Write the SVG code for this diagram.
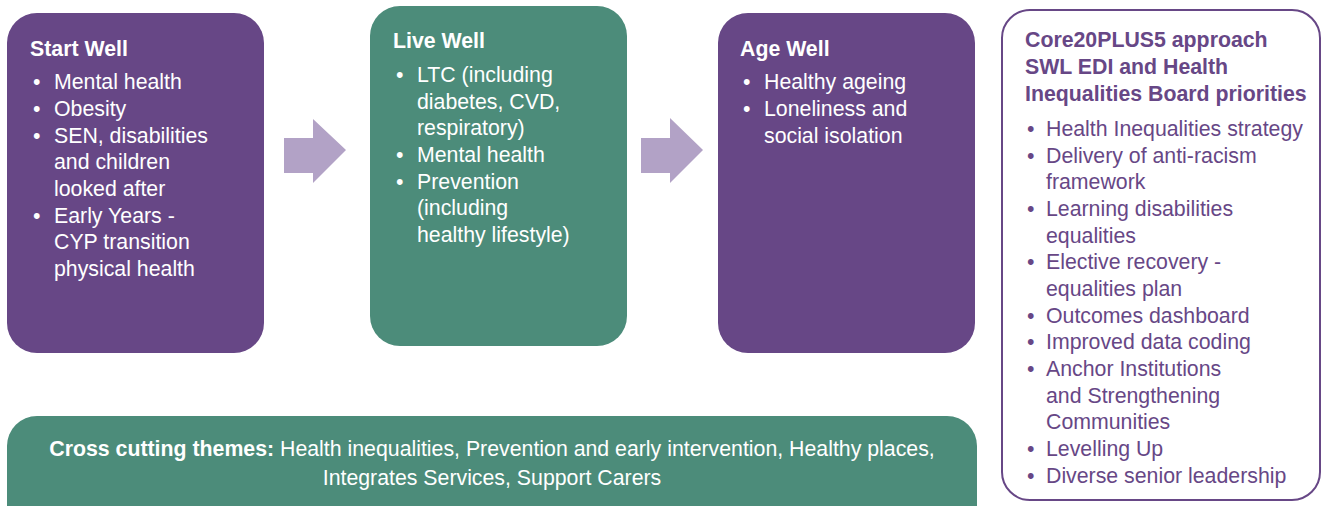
<svg xmlns="http://www.w3.org/2000/svg" width="1322" height="506" viewBox="0 0 1322 506">
<style>
.t{font-family:"Liberation Sans",Arial,sans-serif;font-size:21.3px;fill:#ffffff}
.b{font-weight:bold}
.p{fill:#674786}
.purple{fill:#674786}
.green{fill:#4c8c7a}
.arrow{fill:#b2a2c6}
</style>
<rect width="1322" height="506" fill="#ffffff"/>
<g id="start-well">
<rect class="purple" x="7" y="13" width="257" height="340" rx="30"/>
<text class="t b" x="30" y="56">Start Well</text>
<text class="t" x="33" y="89">•</text><text class="t" x="54" y="89">Mental health</text>
<text class="t" x="33" y="116">•</text><text class="t" x="54" y="116">Obesity</text>
<text class="t" x="33" y="143">•</text><text class="t" x="54" y="143">SEN, disabilities</text>
<text class="t" x="54" y="169">and children</text>
<text class="t" x="54" y="196">looked after</text>
<text class="t" x="33" y="223">•</text><text class="t" x="54" y="223">Early Years -</text>
<text class="t" x="54" y="249">CYP transition</text>
<text class="t" x="54" y="276">physical health</text>
</g>
<g id="live-well">
<rect class="green" x="370" y="6" width="257" height="340" rx="30"/>
<text class="t b" x="393" y="48">Live Well</text>
<text class="t" x="396" y="82">•</text><text class="t" x="417" y="82">LTC (including</text>
<text class="t" x="417" y="109">diabetes, CVD,</text>
<text class="t" x="417" y="135">respiratory)</text>
<text class="t" x="396" y="162">•</text><text class="t" x="417" y="162">Mental health</text>
<text class="t" x="396" y="189">•</text><text class="t" x="417" y="189">Prevention</text>
<text class="t" x="417" y="215">(including</text>
<text class="t" x="417" y="242">healthy lifestyle)</text>
</g>
<g id="age-well">
<rect class="purple" x="718" y="13" width="257" height="340" rx="30"/>
<text class="t b" x="740" y="56">Age Well</text>
<text class="t" x="743" y="89">•</text><text class="t" x="764" y="89">Healthy ageing</text>
<text class="t" x="743" y="116">•</text><text class="t" x="764" y="116">Loneliness and</text>
<text class="t" x="764" y="143">social isolation</text>
</g>
<g id="core20plus5">
<rect x="1002" y="10" width="318" height="490" rx="28" fill="#ffffff" stroke="#674786" stroke-width="2"/>
<text class="t b p" x="1025" y="47">Core20PLUS5 approach</text>
<text class="t b p" x="1025" y="74">SWL EDI and Health</text>
<text class="t b p" x="1025" y="101">Inequalities Board priorities</text>
<text class="t p" x="1027" y="136">•</text><text class="t p" x="1046" y="136">Health Inequalities strategy</text>
<text class="t p" x="1027" y="163">•</text><text class="t p" x="1046" y="163">Delivery of anti-racism</text>
<text class="t p" x="1046" y="189">framework</text>
<text class="t p" x="1027" y="216">•</text><text class="t p" x="1046" y="216">Learning disabilities</text>
<text class="t p" x="1046" y="243">equalities</text>
<text class="t p" x="1027" y="269">•</text><text class="t p" x="1046" y="269">Elective recovery -</text>
<text class="t p" x="1046" y="296">equalities plan</text>
<text class="t p" x="1027" y="323">•</text><text class="t p" x="1046" y="323">Outcomes dashboard</text>
<text class="t p" x="1027" y="349">•</text><text class="t p" x="1046" y="349">Improved data coding</text>
<text class="t p" x="1027" y="376">•</text><text class="t p" x="1046" y="376">Anchor Institutions</text>
<text class="t p" x="1046" y="403">and Strengthening</text>
<text class="t p" x="1046" y="429">Communities</text>
<text class="t p" x="1027" y="456">•</text><text class="t p" x="1046" y="456">Levelling Up</text>
<text class="t p" x="1027" y="483">•</text><text class="t p" x="1046" y="483">Diverse senior leadership</text>
</g>
<g id="cross-cutting">
<rect class="green" x="7" y="416" width="970" height="120" rx="30"/>
<text class="t" x="492" y="456" text-anchor="middle"><tspan class="b">Cross cutting themes:</tspan> Health inequalities, Prevention and early intervention, Healthy places,</text>
<text class="t" x="492" y="485" text-anchor="middle">Integrates Services, Support Carers</text>
</g>
<g id="connectors">
<polygon class="arrow" points="284,138 313,138 313,119 346,150 313,183 313,173 284,173"/>
<polygon class="arrow" points="641,138 670,138 670,118 703,150 670,183 670,173 641,173"/>
</g>
</svg>
